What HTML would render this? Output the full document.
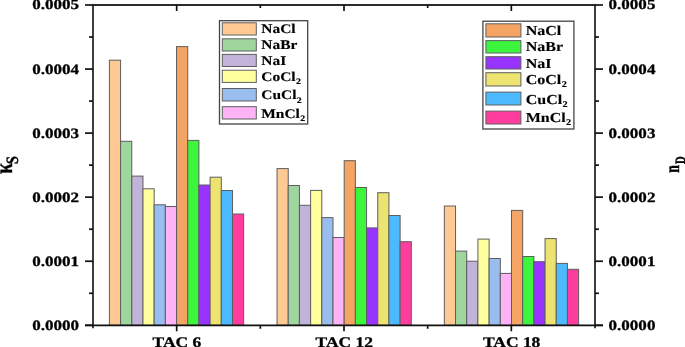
<!DOCTYPE html><html><head><meta charset="utf-8"><style>
html,body{margin:0;padding:0;background:#fff;}
body{width:685px;height:347px;overflow:hidden;position:relative;}
svg{position:absolute;left:0;top:0;display:block;will-change:transform;}
text{font-family:"Liberation Serif",serif;font-weight:bold;fill:#000;stroke:#000;stroke-width:0.3px;text-rendering:geometricPrecision;}
</style></head><body>
<svg width="685" height="347" viewBox="0 0 685 347">
<rect x="109.39" y="60.20" width="11.19" height="265.10" fill="#FFC994" stroke="#5e5e5e" stroke-width="1"/>
<rect x="120.58" y="141.30" width="11.19" height="184.00" fill="#9ED69E" stroke="#5e5e5e" stroke-width="1"/>
<rect x="131.77" y="176.10" width="11.19" height="149.20" fill="#C2B3D9" stroke="#5e5e5e" stroke-width="1"/>
<rect x="142.96" y="188.80" width="11.19" height="136.50" fill="#FFFF9E" stroke="#5e5e5e" stroke-width="1"/>
<rect x="154.15" y="204.80" width="11.19" height="120.50" fill="#9ABDF0" stroke="#5e5e5e" stroke-width="1"/>
<rect x="165.34" y="206.50" width="11.19" height="118.80" fill="#FFB3F7" stroke="#5e5e5e" stroke-width="1"/>
<rect x="176.53" y="46.60" width="11.19" height="278.70" fill="#F5A463" stroke="#5e5e5e" stroke-width="1"/>
<rect x="187.72" y="140.40" width="11.19" height="184.90" fill="#3DF53D" stroke="#5e5e5e" stroke-width="1"/>
<rect x="198.91" y="185.00" width="11.19" height="140.30" fill="#9933FF" stroke="#5e5e5e" stroke-width="1"/>
<rect x="210.10" y="177.20" width="11.19" height="148.10" fill="#EDE370" stroke="#5e5e5e" stroke-width="1"/>
<rect x="221.29" y="190.50" width="11.19" height="134.80" fill="#4DBAFF" stroke="#5e5e5e" stroke-width="1"/>
<rect x="232.48" y="214.00" width="11.19" height="111.30" fill="#FF3D9E" stroke="#5e5e5e" stroke-width="1"/>
<rect x="277.04" y="168.60" width="11.19" height="156.70" fill="#FFC994" stroke="#5e5e5e" stroke-width="1"/>
<rect x="288.23" y="185.50" width="11.19" height="139.80" fill="#9ED69E" stroke="#5e5e5e" stroke-width="1"/>
<rect x="299.42" y="205.30" width="11.19" height="120.00" fill="#C2B3D9" stroke="#5e5e5e" stroke-width="1"/>
<rect x="310.61" y="190.40" width="11.19" height="134.90" fill="#FFFF9E" stroke="#5e5e5e" stroke-width="1"/>
<rect x="321.80" y="217.60" width="11.19" height="107.70" fill="#9ABDF0" stroke="#5e5e5e" stroke-width="1"/>
<rect x="332.99" y="237.50" width="11.19" height="87.80" fill="#FFB3F7" stroke="#5e5e5e" stroke-width="1"/>
<rect x="344.18" y="160.70" width="11.19" height="164.60" fill="#F5A463" stroke="#5e5e5e" stroke-width="1"/>
<rect x="355.37" y="187.50" width="11.19" height="137.80" fill="#3DF53D" stroke="#5e5e5e" stroke-width="1"/>
<rect x="366.56" y="227.90" width="11.19" height="97.40" fill="#9933FF" stroke="#5e5e5e" stroke-width="1"/>
<rect x="377.75" y="192.70" width="11.19" height="132.60" fill="#EDE370" stroke="#5e5e5e" stroke-width="1"/>
<rect x="388.94" y="215.50" width="11.19" height="109.80" fill="#4DBAFF" stroke="#5e5e5e" stroke-width="1"/>
<rect x="400.13" y="241.70" width="11.19" height="83.60" fill="#FF3D9E" stroke="#5e5e5e" stroke-width="1"/>
<rect x="444.35" y="206.00" width="11.19" height="119.30" fill="#FFC994" stroke="#5e5e5e" stroke-width="1"/>
<rect x="455.54" y="251.10" width="11.19" height="74.20" fill="#9ED69E" stroke="#5e5e5e" stroke-width="1"/>
<rect x="466.73" y="261.20" width="11.19" height="64.10" fill="#C2B3D9" stroke="#5e5e5e" stroke-width="1"/>
<rect x="477.92" y="239.10" width="11.19" height="86.20" fill="#FFFF9E" stroke="#5e5e5e" stroke-width="1"/>
<rect x="489.11" y="258.50" width="11.19" height="66.80" fill="#9ABDF0" stroke="#5e5e5e" stroke-width="1"/>
<rect x="500.30" y="273.40" width="11.19" height="51.90" fill="#FFB3F7" stroke="#5e5e5e" stroke-width="1"/>
<rect x="511.49" y="210.40" width="11.19" height="114.90" fill="#F5A463" stroke="#5e5e5e" stroke-width="1"/>
<rect x="522.68" y="256.50" width="11.19" height="68.80" fill="#3DF53D" stroke="#5e5e5e" stroke-width="1"/>
<rect x="533.87" y="261.70" width="11.19" height="63.60" fill="#9933FF" stroke="#5e5e5e" stroke-width="1"/>
<rect x="545.06" y="238.60" width="11.19" height="86.70" fill="#EDE370" stroke="#5e5e5e" stroke-width="1"/>
<rect x="556.25" y="263.40" width="11.19" height="61.90" fill="#4DBAFF" stroke="#5e5e5e" stroke-width="1"/>
<rect x="567.44" y="269.30" width="11.19" height="56.00" fill="#FF3D9E" stroke="#5e5e5e" stroke-width="1"/>
<g stroke="#2a2a2a" stroke-width="1.8" fill="none">
<line x1="93.0" y1="5.0" x2="595.0" y2="5.0"/>
<line x1="93.0" y1="4.1" x2="93.0" y2="328.3"/>
<line x1="595.0" y1="4.1" x2="595.0" y2="328.3"/>
</g>
<g stroke="#111" stroke-width="1.7" fill="none">
<line x1="85.0" y1="325.3" x2="603.0" y2="325.3"/>
<line x1="85.0" y1="325.30" x2="93.0" y2="325.30"/>
<line x1="595.0" y1="325.30" x2="603.0" y2="325.30"/>
<line x1="85.0" y1="261.24" x2="93.0" y2="261.24"/>
<line x1="595.0" y1="261.24" x2="603.0" y2="261.24"/>
<line x1="85.0" y1="197.18" x2="93.0" y2="197.18"/>
<line x1="595.0" y1="197.18" x2="603.0" y2="197.18"/>
<line x1="85.0" y1="133.12" x2="93.0" y2="133.12"/>
<line x1="595.0" y1="133.12" x2="603.0" y2="133.12"/>
<line x1="85.0" y1="69.06" x2="93.0" y2="69.06"/>
<line x1="595.0" y1="69.06" x2="603.0" y2="69.06"/>
<line x1="85.0" y1="5.00" x2="93.0" y2="5.00"/>
<line x1="595.0" y1="5.00" x2="603.0" y2="5.00"/>
<line x1="89.0" y1="293.27" x2="93.0" y2="293.27"/>
<line x1="595.0" y1="293.27" x2="599.0" y2="293.27"/>
<line x1="89.0" y1="229.21" x2="93.0" y2="229.21"/>
<line x1="595.0" y1="229.21" x2="599.0" y2="229.21"/>
<line x1="89.0" y1="165.15" x2="93.0" y2="165.15"/>
<line x1="595.0" y1="165.15" x2="599.0" y2="165.15"/>
<line x1="89.0" y1="101.09" x2="93.0" y2="101.09"/>
<line x1="595.0" y1="101.09" x2="599.0" y2="101.09"/>
<line x1="89.0" y1="37.03" x2="93.0" y2="37.03"/>
<line x1="595.0" y1="37.03" x2="599.0" y2="37.03"/>
<line x1="176.67" y1="325.3" x2="176.67" y2="331.3"/>
<line x1="176.67" y1="5.0" x2="176.67" y2="11.0"/>
<line x1="344.00" y1="325.3" x2="344.00" y2="331.3"/>
<line x1="344.00" y1="5.0" x2="344.00" y2="11.0"/>
<line x1="511.33" y1="325.3" x2="511.33" y2="331.3"/>
<line x1="511.33" y1="5.0" x2="511.33" y2="11.0"/>
<line x1="260.33" y1="325.3" x2="260.33" y2="328.8"/>
<line x1="260.33" y1="5.0" x2="260.33" y2="8.0"/>
<line x1="427.67" y1="325.3" x2="427.67" y2="328.8"/>
<line x1="427.67" y1="5.0" x2="427.67" y2="8.0"/>
</g>
<text transform="translate(79.00 329.85) scale(1.190 1)" font-size="14.30" text-anchor="end">0.0000</text>
<text transform="translate(608.60 329.85) scale(1.190 1)" font-size="14.30" text-anchor="start">0.0000</text>
<text transform="translate(79.00 265.79) scale(1.190 1)" font-size="14.30" text-anchor="end">0.0001</text>
<text transform="translate(608.60 265.79) scale(1.190 1)" font-size="14.30" text-anchor="start">0.0001</text>
<text transform="translate(79.00 201.73) scale(1.190 1)" font-size="14.30" text-anchor="end">0.0002</text>
<text transform="translate(608.60 201.73) scale(1.190 1)" font-size="14.30" text-anchor="start">0.0002</text>
<text transform="translate(79.00 137.67) scale(1.190 1)" font-size="14.30" text-anchor="end">0.0003</text>
<text transform="translate(608.60 137.67) scale(1.190 1)" font-size="14.30" text-anchor="start">0.0003</text>
<text transform="translate(79.00 73.61) scale(1.190 1)" font-size="14.30" text-anchor="end">0.0004</text>
<text transform="translate(608.60 73.61) scale(1.190 1)" font-size="14.30" text-anchor="start">0.0004</text>
<text transform="translate(79.00 9.05) scale(1.190 1)" font-size="14.30" text-anchor="end">0.0005</text>
<text transform="translate(608.60 9.05) scale(1.190 1)" font-size="14.30" text-anchor="start">0.0005</text>
<text transform="translate(176.97 347.20) scale(1.190 1)" font-size="14.70" text-anchor="middle">TAC 6</text>
<text transform="translate(344.30 347.20) scale(1.190 1)" font-size="14.70" text-anchor="middle">TAC 12</text>
<text transform="translate(511.63 347.20) scale(1.190 1)" font-size="14.70" text-anchor="middle">TAC 18</text>
<text transform="translate(12.0 174.06) rotate(-90) scale(1 1.25)" font-size="20">&#954;</text>
<text transform="translate(17.8 163.96) rotate(-90) scale(1 1.21)" font-size="14.3">S</text>
<text transform="translate(679.4 172.77) rotate(-90) scale(1 1.5)" font-size="13.7">n</text>
<text transform="translate(684.6 164.04) rotate(-90) scale(1 1.35)" font-size="10.6">D</text>
<rect x="219.50" y="20.70" width="88.20" height="103.30" fill="#fff" stroke="#444" stroke-width="1.3"/>
<rect x="222.30" y="22.80" width="34.00" height="12.20" fill="#FFC994" stroke="#5e5e5e" stroke-width="1"/>
<text transform="translate(261.30 33.20) scale(1.170 1)" font-size="13.20" text-anchor="start" style="stroke-width:0.15px">NaCl</text>
<rect x="222.30" y="38.80" width="34.00" height="12.20" fill="#9ED69E" stroke="#5e5e5e" stroke-width="1"/>
<text transform="translate(261.30 48.70) scale(1.170 1)" font-size="13.20" text-anchor="start" style="stroke-width:0.15px">NaBr</text>
<rect x="222.30" y="54.40" width="34.00" height="12.10" fill="#C2B3D9" stroke="#5e5e5e" stroke-width="1"/>
<text transform="translate(261.30 64.60) scale(1.170 1)" font-size="13.20" text-anchor="start" style="stroke-width:0.15px">NaI</text>
<rect x="222.30" y="70.20" width="34.00" height="12.20" fill="#FFFF9E" stroke="#5e5e5e" stroke-width="1"/>
<text transform="translate(261.30 81.20) scale(1.170 1)" font-size="13.20" text-anchor="start" style="stroke-width:0.15px">CoCl<tspan font-size="8.4" dy="3.2" dx="0.3">2</tspan></text>
<rect x="222.30" y="88.50" width="34.00" height="12.50" fill="#9ABDF0" stroke="#5e5e5e" stroke-width="1"/>
<text transform="translate(261.30 99.40) scale(1.170 1)" font-size="13.20" text-anchor="start" style="stroke-width:0.15px">CuCl<tspan font-size="8.4" dy="3.2" dx="0.3">2</tspan></text>
<rect x="222.30" y="106.70" width="34.00" height="12.30" fill="#FFB3F7" stroke="#5e5e5e" stroke-width="1"/>
<text transform="translate(261.30 117.60) scale(1.170 1)" font-size="13.20" text-anchor="start" style="stroke-width:0.15px">MnCl<tspan font-size="8.4" dy="3.2" dx="0.3">2</tspan></text>
<rect x="482.90" y="21.20" width="91.00" height="107.80" fill="#fff" stroke="#444" stroke-width="1.3"/>
<rect x="485.90" y="23.80" width="35.00" height="13.20" fill="#F5A463" stroke="#5e5e5e" stroke-width="1"/>
<text transform="translate(525.70 35.20) scale(1.170 1)" font-size="13.70" text-anchor="start" style="stroke-width:0.15px">NaCl</text>
<rect x="485.90" y="40.60" width="35.00" height="12.40" fill="#3DF53D" stroke="#5e5e5e" stroke-width="1"/>
<text transform="translate(525.70 51.30) scale(1.170 1)" font-size="13.70" text-anchor="start" style="stroke-width:0.15px">NaBr</text>
<rect x="485.90" y="56.70" width="35.00" height="12.30" fill="#9933FF" stroke="#5e5e5e" stroke-width="1"/>
<text transform="translate(525.70 67.90) scale(1.170 1)" font-size="13.70" text-anchor="start" style="stroke-width:0.15px">NaI</text>
<rect x="485.90" y="72.70" width="35.00" height="13.30" fill="#EDE370" stroke="#5e5e5e" stroke-width="1"/>
<text transform="translate(525.70 84.20) scale(1.170 1)" font-size="13.70" text-anchor="start" style="stroke-width:0.15px">CoCl<tspan font-size="8.8" dy="3.2" dx="0.3">2</tspan></text>
<rect x="485.90" y="92.10" width="35.00" height="12.90" fill="#4DBAFF" stroke="#5e5e5e" stroke-width="1"/>
<text transform="translate(525.70 103.70) scale(1.170 1)" font-size="13.70" text-anchor="start" style="stroke-width:0.15px">CuCl<tspan font-size="8.8" dy="3.2" dx="0.3">2</tspan></text>
<rect x="485.90" y="111.10" width="35.00" height="12.90" fill="#FF3D9E" stroke="#5e5e5e" stroke-width="1"/>
<text transform="translate(525.70 121.90) scale(1.170 1)" font-size="13.70" text-anchor="start" style="stroke-width:0.15px">MnCl<tspan font-size="8.8" dy="3.2" dx="0.3">2</tspan></text>
</svg></body></html>
